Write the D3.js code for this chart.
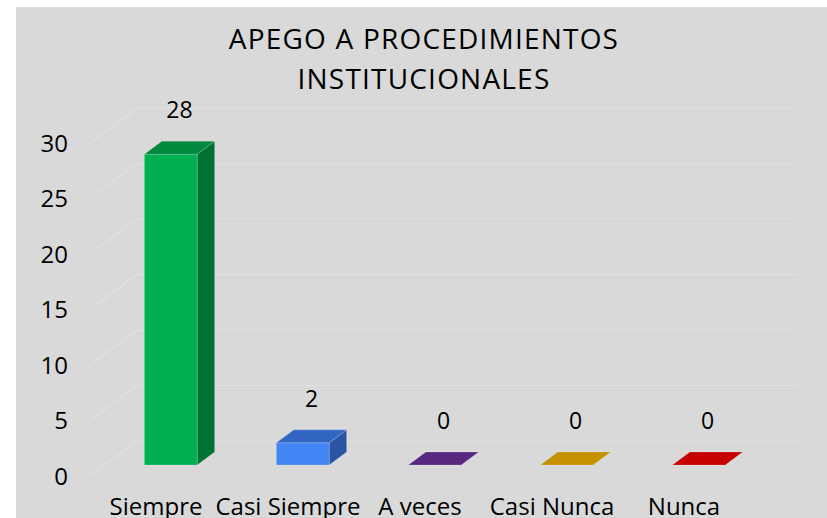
<!DOCTYPE html>
<html lang="es">
<head>
  <meta charset="UTF-8">
  <title>Apego a procedimientos institucionales</title>
  <script src="https://d3js.org/d3.v7.min.js"></script>
  <style>
    html, body {
      margin: 0;
      padding: 0;
      background: #ffffff;
    }
    svg {
      display: block;
      font-family: 'Open Sans', Lato, sans-serif;
    }
  </style>
</head>
<body>
<svg width="827" height="518"></svg>
<script>
  // datos
  const categories = ["Siempre", "Casi Siempre", "A veces", "Casi Nunca", "Nunca"];
  const values = [28, 2, 0, 0, 0];
  const yTicks = [0, 5, 10, 15, 20, 25, 30];
  const titleLines = ["APEGO A PROCEDIMIENTOS", "INSTITUCIONALES"];

  // colores por barra: frente, arriba, lado
  const frontColors = ["#00b050", "#4285f4", "#7030a0", "#ffc000", "#ff0000"];
  const topColors = ["#00883c", "#3366c2", "#58297f", "#c59100", "#c40000"];
  const sideColors = ["#007332", "#2b55a2", "#4a2270", "#a67a00", "#a00000"];

  const svg = d3.select("svg");
  const W = 827, H = 518;

  // panel gris
  svg.append("rect")
    .attr("x", 16).attr("y", 7)
    .attr("width", W - 16).attr("height", H - 7)
    .attr("fill", "#d9d9d9");

  // profundidad del piso (perspectiva oblicua)
  const depth = { dx: 47, dy: -35 };
  const barDepthStart = 11 / 35, barDepthEnd = 24 / 35;

  const x = d3.scaleBand().domain(categories).range([90, 750]);
  const y = d3.scaleLinear().domain([0, 30]).range([476, 143]);
  const barW = x.bandwidth() * 0.4;

  // cuadricula: pared izquierda + pared trasera
  const grid = svg.append("g").attr("stroke", "#e2e2e2").attr("stroke-width", 1.2).attr("fill", "none");
  grid.selectAll("line.back").data(yTicks).join("line")
    .attr("x1", x.range()[0] + depth.dx).attr("x2", x.range()[1] + depth.dx)
    .attr("y1", d => y(d) + depth.dy).attr("y2", d => y(d) + depth.dy);
  grid.selectAll("line.side").data(yTicks).join("line")
    .attr("x1", x.range()[0]).attr("x2", x.range()[0] + depth.dx)
    .attr("y1", d => y(d)).attr("y2", d => y(d) + depth.dy);

  // eje y
  svg.append("g").selectAll("text").data(yTicks).join("text")
    .attr("x", 68).attr("y", d => y(d))
    .attr("dy", "0.36em")
    .attr("text-anchor", "end")
    .attr("font-size", 24)
    .attr("fill", "#000")
    .text(d => d);

  // barras 3D
  const ox = depth.dx * barDepthStart, oy = depth.dy * barDepthStart;
  const bx = depth.dx * (barDepthEnd - barDepthStart), by = depth.dy * (barDepthEnd - barDepthStart);

  const bars = svg.append("g")
    .attr("stroke", "rgba(255,255,255,0.22)").attr("stroke-width", 0.8)
    .selectAll("g").data(values).join("g");
  bars.each(function (v, i) {
    const g = d3.select(this);
    const cx = x(categories[i]) + x.bandwidth() / 2 + ox;
    const x0 = cx - barW / 2, x1 = cx + barW / 2;
    const yb = y(0) + oy, yt = y(v) + oy;
    if (v > 0) {
      g.append("path")
        .attr("d", `M${x1},${yb}L${x1 + bx},${yb + by}L${x1 + bx},${yt + by}L${x1},${yt}Z`)
        .attr("fill", sideColors[i]);
      g.append("rect")
        .attr("x", x0).attr("y", yt)
        .attr("width", barW).attr("height", yb - yt)
        .attr("fill", frontColors[i]);
    }
    g.append("path")
      .attr("d", `M${x0},${yt}L${x1},${yt}L${x1 + bx},${yt + by}L${x0 + bx},${yt + by}Z`)
      .attr("fill", topColors[i]);
  });

  // etiquetas de valor
  svg.append("g").selectAll("text").data(values).join("text")
    .attr("x", (v, i) => x(categories[i]) + x.bandwidth() / 2 + ox + bx / 2)
    .attr("y", v => y(v) + oy + by - 23)
    .attr("text-anchor", "middle")
    .attr("font-size", 23)
    .attr("fill", "#000")
    .text(v => v);

  // eje x
  svg.append("g").selectAll("text").data(categories).join("text")
    .attr("x", d => x(d) + x.bandwidth() / 2)
    .attr("y", 515)
    .attr("text-anchor", "middle")
    .attr("font-size", 24)
    .attr("fill", "#000")
    .text(d => d);

  // titulo
  svg.append("g").selectAll("text").data(titleLines).join("text")
    .attr("x", 424)
    .attr("y", (d, i) => 49 + i * 40)
    .attr("text-anchor", "middle")
    .attr("font-size", 28)
    .attr("letter-spacing", 1.2)
    .attr("fill", "#000")
    .text(d => d);
</script>
</body>
</html>
